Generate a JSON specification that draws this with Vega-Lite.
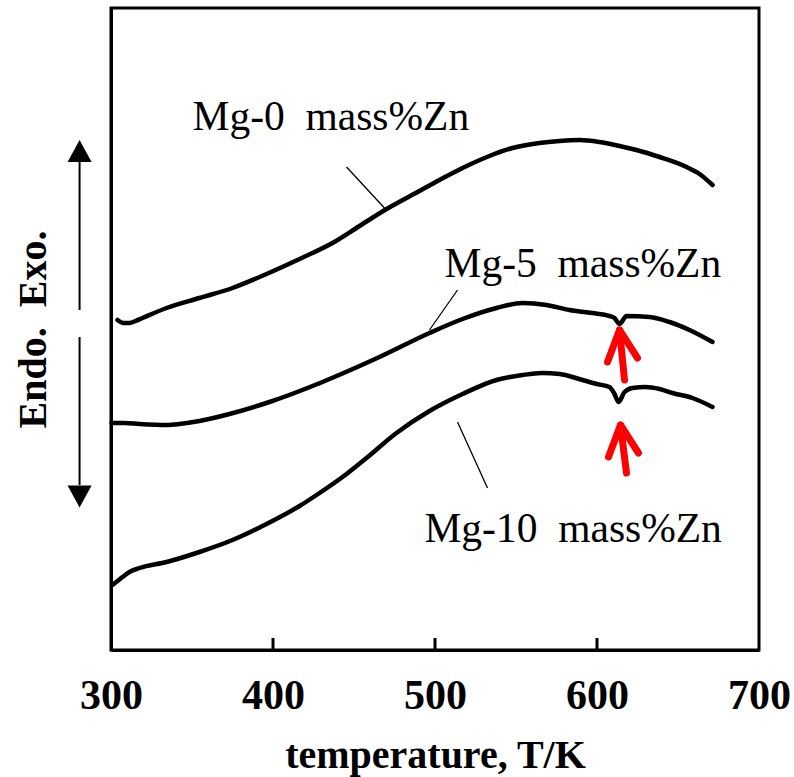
{
  "$schema": "https://vega.github.io/schema/vega-lite/v6.json",
  "width": 648,
  "height": 642,
  "autosize": {"type": "none"},
  "padding": {"left": 111, "top": 8, "right": 35, "bottom": 127},
  "background": "white",
  "config": {
    "view": {"stroke": "black", "strokeWidth": 3},
    "font": "Liberation Serif, Times New Roman, Tinos, serif"
  },
  "datasets": {
    "curves": [
      {"series": "Mg-0", "T": 304.0, "v": 330}, {"series": "Mg-0", "T": 307.7, "v": 327}, {"series": "Mg-0", "T": 311.4, "v": 327}, {"series": "Mg-0", "T": 315.1, "v": 329}, {"series": "Mg-0", "T": 319.4, "v": 332}, {"series": "Mg-0", "T": 334.3, "v": 342}, {"series": "Mg-0", "T": 354.6, "v": 352}, {"series": "Mg-0", "T": 375.0, "v": 362}, {"series": "Mg-0", "T": 396.0, "v": 376}, {"series": "Mg-0", "T": 416.4, "v": 391}, {"series": "Mg-0", "T": 436.7, "v": 407}, {"series": "Mg-0", "T": 453.4, "v": 424}, {"series": "Mg-0", "T": 470.1, "v": 441}, {"series": "Mg-0", "T": 490.4, "v": 459}, {"series": "Mg-0", "T": 502.8, "v": 470}, {"series": "Mg-0", "T": 517.0, "v": 482}, {"series": "Mg-0", "T": 533.6, "v": 494}, {"series": "Mg-0", "T": 547.8, "v": 502}, {"series": "Mg-0", "T": 564.5, "v": 507}, {"series": "Mg-0", "T": 576.9, "v": 509}, {"series": "Mg-0", "T": 589.2, "v": 510}, {"series": "Mg-0", "T": 601.5, "v": 508}, {"series": "Mg-0", "T": 613.9, "v": 504}, {"series": "Mg-0", "T": 624.4, "v": 500}, {"series": "Mg-0", "T": 638.6, "v": 493}, {"series": "Mg-0", "T": 655.3, "v": 483}, {"series": "Mg-0", "T": 663.3, "v": 476}, {"series": "Mg-0", "T": 671.3, "v": 465},
      {"series": "Mg-5", "T": 300.3, "v": 227}, {"series": "Mg-5", "T": 308.3, "v": 227}, {"series": "Mg-5", "T": 317.6, "v": 226}, {"series": "Mg-5", "T": 334.3, "v": 225}, {"series": "Mg-5", "T": 342.3, "v": 226}, {"series": "Mg-5", "T": 354.6, "v": 229}, {"series": "Mg-5", "T": 373.1, "v": 236}, {"series": "Mg-5", "T": 397.8, "v": 248}, {"series": "Mg-5", "T": 424.4, "v": 264}, {"series": "Mg-5", "T": 434.9, "v": 271}, {"series": "Mg-5", "T": 465.7, "v": 293}, {"series": "Mg-5", "T": 496.6, "v": 317}, {"series": "Mg-5", "T": 517.0, "v": 331}, {"series": "Mg-5", "T": 538.0, "v": 342}, {"series": "Mg-5", "T": 554.0, "v": 347}, {"series": "Mg-5", "T": 568.8, "v": 345}, {"series": "Mg-5", "T": 583.0, "v": 340}, {"series": "Mg-5", "T": 597.2, "v": 337}, {"series": "Mg-5", "T": 607.7, "v": 334}, {"series": "Mg-5", "T": 610.8, "v": 332}, {"series": "Mg-5", "T": 613.9, "v": 326}, {"series": "Mg-5", "T": 618.2, "v": 334}, {"series": "Mg-5", "T": 632.4, "v": 333}, {"series": "Mg-5", "T": 644.8, "v": 328}, {"series": "Mg-5", "T": 657.1, "v": 320}, {"series": "Mg-5", "T": 671.3, "v": 308},
      {"series": "Mg-10", "T": 300.9, "v": 65}, {"series": "Mg-10", "T": 304.0, "v": 69}, {"series": "Mg-10", "T": 307.1, "v": 73}, {"series": "Mg-10", "T": 311.4, "v": 78}, {"series": "Mg-10", "T": 317.6, "v": 82}, {"series": "Mg-10", "T": 334.3, "v": 88}, {"series": "Mg-10", "T": 354.6, "v": 98}, {"series": "Mg-10", "T": 375.0, "v": 110}, {"series": "Mg-10", "T": 396.0, "v": 126}, {"series": "Mg-10", "T": 416.4, "v": 144}, {"series": "Mg-10", "T": 426.9, "v": 155}, {"series": "Mg-10", "T": 445.4, "v": 176}, {"series": "Mg-10", "T": 457.7, "v": 192}, {"series": "Mg-10", "T": 476.2, "v": 217}, {"series": "Mg-10", "T": 496.6, "v": 239}, {"series": "Mg-10", "T": 517.0, "v": 256}, {"series": "Mg-10", "T": 537.9, "v": 270}, {"series": "Mg-10", "T": 554.0, "v": 275}, {"series": "Mg-10", "T": 566.0, "v": 277}, {"series": "Mg-10", "T": 577.0, "v": 276}, {"series": "Mg-10", "T": 589.0, "v": 271}, {"series": "Mg-10", "T": 600.0, "v": 266}, {"series": "Mg-10", "T": 607.7, "v": 263}, {"series": "Mg-10", "T": 610.8, "v": 256}, {"series": "Mg-10", "T": 613.3, "v": 248}, {"series": "Mg-10", "T": 617.0, "v": 258}, {"series": "Mg-10", "T": 621.9, "v": 262}, {"series": "Mg-10", "T": 630.0, "v": 263}, {"series": "Mg-10", "T": 638.6, "v": 261}, {"series": "Mg-10", "T": 646.6, "v": 257}, {"series": "Mg-10", "T": 658.9, "v": 252}, {"series": "Mg-10", "T": 671.3, "v": 243}
    ],
    "leaders": [
      {"id": "a", "T": 445.4, "v": 483}, {"id": "a", "T": 468.8, "v": 442},
      {"id": "b", "T": 513.9, "v": 360}, {"id": "b", "T": 496.6, "v": 320},
      {"id": "c", "T": 513.9, "v": 228}, {"id": "c", "T": 532.4, "v": 162}
    ],
    "labels": [
      {"T": 350.3, "v": 520, "text": "Mg-0\u00a0 mass%Zn"},
      {"T": 505.9, "v": 373, "text": "Mg-5\u00a0 mass%Zn"},
      {"T": 493.5, "v": 108, "text": "Mg-10\u00a0 mass%Zn"}
    ],
    "ticks": [
      {"T": 400, "v0": 0, "v1": 12},
      {"T": 500, "v0": 0, "v1": 12},
      {"T": 600, "v0": 0, "v1": 12}
    ],
    "redarrows": [
      {"id": "s1", "o": 1, "T": 617.0, "v": 270}, {"id": "s1", "o": 2, "T": 613.9, "v": 320},
      {"id": "h1", "o": 1, "T": 606.5, "v": 288}, {"id": "h1", "o": 2, "T": 613.9, "v": 320}, {"id": "h1", "o": 3, "T": 625.0, "v": 292},
      {"id": "s2", "o": 1, "T": 618.2, "v": 177}, {"id": "s2", "o": 2, "T": 614.5, "v": 225},
      {"id": "h2", "o": 1, "T": 607.1, "v": 193}, {"id": "h2", "o": 2, "T": 614.5, "v": 225}, {"id": "h2", "o": 3, "T": 625.6, "v": 197}
    ],
    "endoexo": [
      {"id": "up", "T": 280.6, "v": 488}, {"id": "up", "T": 280.6, "v": 340},
      {"id": "down", "T": 280.6, "v": 313}, {"id": "down", "T": 280.6, "v": 165}
    ],
    "heads": [
      {"dir": "up", "T": 280.6, "v": 499},
      {"dir": "down", "T": 280.6, "v": 153.5}
    ]
  },
  "layer": [
    {
      "data": {"name": "curves"},
      "mark": {"type": "line", "color": "black", "strokeWidth": 4.5, "strokeJoin": "round", "strokeCap": "round", "interpolate": "monotone"},
      "encoding": {
        "x": {"field": "T", "type": "quantitative", "scale": {"domain": [300, 700], "nice": false, "zero": false},
          "axis": {"values": [300, 400, 500, 600, 700], "title": "temperature, T/K", "grid": false, "ticks": false,
            "domainColor": "black", "domainWidth": 3,
            "labelFont": "Liberation Serif, Times New Roman, Tinos, serif", "labelFontSize": 42, "labelFontWeight": "bold", "labelColor": "black", "labelPadding": 25, "labelFlush": false,
            "titleFont": "Liberation Serif, Times New Roman, Tinos, serif", "titleFontSize": 40, "titleFontWeight": "bold", "titleColor": "black", "titlePadding": 19}},
        "y": {"field": "v", "type": "quantitative", "scale": {"domain": [0, 642], "nice": false, "zero": false},
          "axis": {"title": "Endo.\u00a0 Exo.", "labels": false, "ticks": false, "grid": false,
            "domainColor": "black", "domainWidth": 3,
            "titleFont": "Liberation Serif, Times New Roman, Tinos, serif", "titleFontSize": 40, "titleFontWeight": "bold", "titleColor": "black", "titlePadding": 58}},
        "detail": {"field": "series"}
      }
    },
    {
      "data": {"name": "ticks"},
      "mark": {"type": "rule", "color": "black", "strokeWidth": 3},
      "encoding": {"x": {"field": "T", "type": "quantitative"}, "y": {"field": "v0", "type": "quantitative"}, "y2": {"field": "v1"}}
    },
    {
      "data": {"name": "leaders"},
      "mark": {"type": "line", "color": "black", "strokeWidth": 1.3},
      "encoding": {"x": {"field": "T", "type": "quantitative"}, "y": {"field": "v", "type": "quantitative"}, "detail": {"field": "id"}}
    },
    {
      "data": {"name": "labels"},
      "mark": {"type": "text", "font": "Liberation Serif, Times New Roman, Tinos, serif", "fontSize": 41.5, "align": "left", "baseline": "alphabetic", "color": "black"},
      "encoding": {"x": {"field": "T", "type": "quantitative"}, "y": {"field": "v", "type": "quantitative"}, "text": {"field": "text"}}
    },
    {
      "data": {"name": "redarrows"},
      "mark": {"type": "line", "color": "#ff0000", "strokeWidth": 7, "strokeCap": "round", "strokeJoin": "round"},
      "encoding": {"x": {"field": "T", "type": "quantitative"}, "y": {"field": "v", "type": "quantitative"}, "detail": {"field": "id"}, "order": {"field": "o"}}
    },
    {
      "data": {"name": "endoexo"},
      "mark": {"type": "line", "color": "black", "strokeWidth": 2},
      "encoding": {"x": {"field": "T", "type": "quantitative"}, "y": {"field": "v", "type": "quantitative"}, "detail": {"field": "id"}}
    },
    {
      "data": {"name": "heads"},
      "mark": {"type": "point", "filled": true, "color": "black", "opacity": 1, "size": 576},
      "encoding": {"x": {"field": "T", "type": "quantitative"}, "y": {"field": "v", "type": "quantitative"},
        "shape": {"field": "dir", "type": "nominal", "scale": {"domain": ["up", "down"], "range": ["M0,-0.92L1,0.92L-1,0.92Z", "M0,0.92L1,-0.92L-1,-0.92Z"]}, "legend": null}}
    }
  ]
}
